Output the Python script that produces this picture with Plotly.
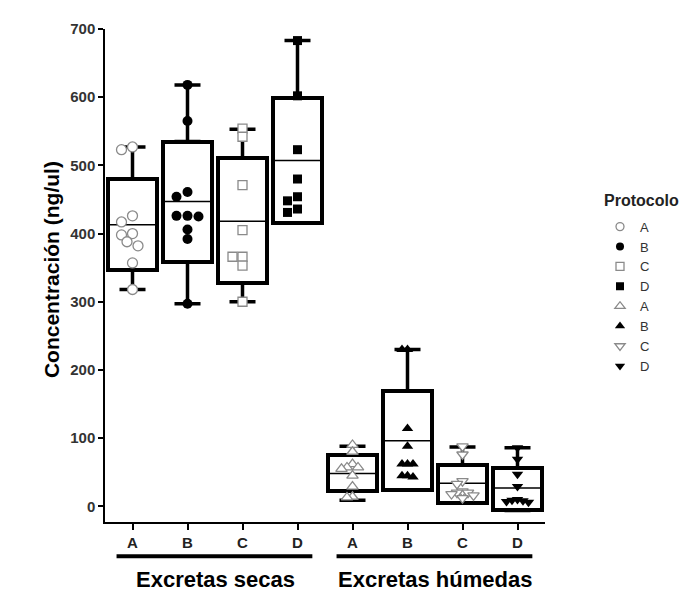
import plotly.graph_objects as go

# ---------------- data ----------------
protocols = ["A", "B", "C", "D", "A", "B", "C", "D"]
groups = ["Excretas secas", "Excretas húmedas"]

dry_A = [527, 523, 426, 417, 400, 398, 388, 382, 357, 318]
dry_B = [618, 565, 461, 454, 426, 426, 425, 406, 392, 297]
dry_C = [554, 542, 471, 405, 366, 366, 353, 300]
dry_D = [683, 602, 523, 480, 454, 448, 436, 431]
wet_A = [90, 80, 62, 57, 57, 55, 45, 29, 14, 13]
wet_B = [230, 230, 114, 88, 62, 62, 62, 45, 45, 43]
wet_C = [88, 76, 37, 33, 22, 20, 20, 18, 16, 12]
wet_D = [86, 69, 47, 29, 10, 9, 8, 7, 6]

box_q1 = [347, 358, 327, 416, 22, 24, 5, -6]
box_median = [413, 447, 418, 507, 48, 96, 34, 27]
box_q3 = [480, 535, 511, 599, 75, 169, 61, 56]
box_low = [318, 297, 300, 416, 9, 24, 5, -6]
box_high = [527, 618, 553, 683, 88, 230, 87, 86]

y_ticks = [0, 100, 200, 300, 400, 500, 600, 700]

series = [dry_A, dry_B, dry_C, dry_D, wet_A, wet_B, wet_C, wet_D]

# ---------------- styles ----------------
GRAY = "#8a8a8a"
symbols = ["circle", "circle", "square", "square",
           "triangle-up", "triangle-up", "triangle-down", "triangle-down"]
sizes = [10, 10, 9, 9, 10, 10, 10, 10]
legend_sizes = [8, 8, 8, 8, 9, 9, 9, 9]
filled = [False, True, False, True, False, True, False, True]


def marker(i, size):
    if filled[i]:
        return dict(symbol=symbols[i], size=size, color="black",
                    line=dict(color="black", width=0))
    return dict(symbol=symbols[i], size=size, color="white",
                line=dict(color=GRAY, width=1.3))


FONT = "Liberation Sans, Arial, sans-serif"
Y_RANGE = [-23, 700]
X_RANGE = [-0.5, 7.5]
OFF = 8                      # page body margin offset
PAGE_W, PAGE_H = 688, 593
PLOT_L, PLOT_R, PLOT_T, PLOT_B = 105, 545, 20, 522   # page pixels
W, H = PAGE_W - OFF, PAGE_H - OFF
M_L, M_T = PLOT_L - OFF, PLOT_T - OFF
M_R, M_B = PAGE_W - PLOT_R, PAGE_H - PLOT_B
PLOT_W = PLOT_R - PLOT_L
PLOT_H = PLOT_B - PLOT_T
KY = PLOT_H / (Y_RANGE[1] - Y_RANGE[0])   # px per unit
KX = PLOT_W / (X_RANGE[1] - X_RANGE[0])   # px per category


def px_x(p):
    return (p - PLOT_L) / PLOT_W


def px_y(p):
    return (PLOT_B - p) / PLOT_H


def swarm(vals, d, f=0.8):
    """Simple beeswarm: horizontal offsets (in category units) avoiding overlaps."""
    order = sorted(range(len(vals)), key=lambda i: -vals[i])
    step = d / 2.0
    cands = [0.0]
    for k in range(1, 12):
        cands += [-k * step, k * step]
    placed = []
    res = [0.0] * len(vals)
    lim = (d * f) ** 2
    for i in order:
        y = vals[i] * KY
        chosen = cands[-1]
        for c in cands:
            if all((c - px) ** 2 + (y - py) ** 2 >= lim for px, py in placed):
                chosen = c
                break
        placed.append((chosen, y))
        res[i] = chosen / KX
    return res


pos = list(range(len(protocols)))
fig = go.Figure()

# boxes (interquartile range)
fig.add_trace(go.Bar(
    x=pos, base=box_q1, y=[q3 - q1 for q1, q3 in zip(box_q1, box_q3)],
    width=0.88, marker=dict(color="white", line=dict(color="black", width=4)),
    showlegend=False, hoverinfo="skip"))

# upper whiskers
fig.add_trace(go.Scatter(
    x=pos, y=box_q3, mode="markers", marker=dict(opacity=0, size=1),
    error_y=dict(type="data", symmetric=False,
                 array=[h - q for h, q in zip(box_high, box_q3)],
                 arrayminus=[0] * len(pos), color="black", thickness=3.5, width=13),
    showlegend=False, hoverinfo="skip"))
# lower whiskers
fig.add_trace(go.Scatter(
    x=pos, y=box_q1, mode="markers", marker=dict(opacity=0, size=1),
    error_y=dict(type="data", symmetric=False,
                 array=[0] * len(pos),
                 arrayminus=[q - l for q, l in zip(box_q1, box_low)],
                 color="black", thickness=3.5, width=13),
    showlegend=False, hoverinfo="skip"))
# medians
fig.add_trace(go.Scatter(
    x=pos, y=box_median, mode="markers",
    marker=dict(symbol="line-ew", size=34, line=dict(color="black", width=1.5)),
    showlegend=False, hoverinfo="skip"))

# individual points
for i, vals in enumerate(series):
    offs = swarm(vals, sizes[i] + 1, 0.8 if i < 4 else 0.45)
    fig.add_trace(go.Scatter(
        x=[i + o for o in offs], y=vals, mode="markers",
        name=protocols[i], marker=marker(i, sizes[i]), showlegend=False,
        legendgroup=str(i)))

# legend entries (smaller symbols, as in the reference legend)
for i in range(len(series)):
    fig.add_trace(go.Scatter(
        x=[None], y=[None], mode="markers", name=protocols[i],
        marker=marker(i, legend_sizes[i]), showlegend=True, legendgroup=str(i)))

# group brackets and labels
for g, (a, b) in enumerate([(0, 3), (4, 7)]):
    fig.add_shape(type="line", xref="x", yref="paper",
                  x0=a - 0.29, x1=b + 0.27, y0=px_y(557), y1=px_y(557),
                  line=dict(color="black", width=4))
    fig.add_annotation(x=(a + b) / 2, y=px_y(581), xref="x", yref="paper",
                       text=groups[g], showarrow=False, yanchor="middle",
                       font=dict(family=FONT, size=22, color="black", weight="bold"))

# y title
fig.add_annotation(x=px_x(38), y=px_y(265),
                   xref="paper", yref="paper", text="Concentración (ng/ul)",
                   textangle=-90, showarrow=False,
                   font=dict(family=FONT, size=21, color="black", weight="bold"))

# legend title
fig.add_annotation(x=px_x(602), y=px_y(195), xref="paper", yref="paper",
                   text="Protocolo", showarrow=False, xanchor="left", yanchor="middle",
                   font=dict(family=FONT, size=16, color="#222", weight="bold"))

fig.update_layout(
    width=W, height=H,
    margin=dict(l=M_L, r=M_R, t=M_T, b=M_B),
    paper_bgcolor="white", plot_bgcolor="white",
    font=dict(family=FONT, color="#222"),
    xaxis=dict(range=X_RANGE, tickvals=pos, ticktext=protocols,
               showgrid=False, zeroline=False, showline=True,
               linecolor="black", linewidth=1.5,
               ticks="outside", ticklen=6, tickwidth=1.5, tickcolor="black",
               tickfont=dict(family=FONT, size=15, color="#222", weight="bold")),
    yaxis=dict(range=Y_RANGE, tickvals=y_ticks,
               showgrid=False, zeroline=False, showline=True,
               linecolor="black", linewidth=1.5,
               ticks="outside", ticklen=5, tickwidth=1.5, tickcolor="black",
               tickfont=dict(family=FONT, size=15, color="#333", weight="bold")),
    legend=dict(x=px_x(600), y=px_y(206),
                xanchor="left", yanchor="top",
                font=dict(family=FONT, size=13, color="#333"),
                tracegroupgap=0, itemsizing="trace"),
    bargap=0,
)

fig.write_html("out.html")
